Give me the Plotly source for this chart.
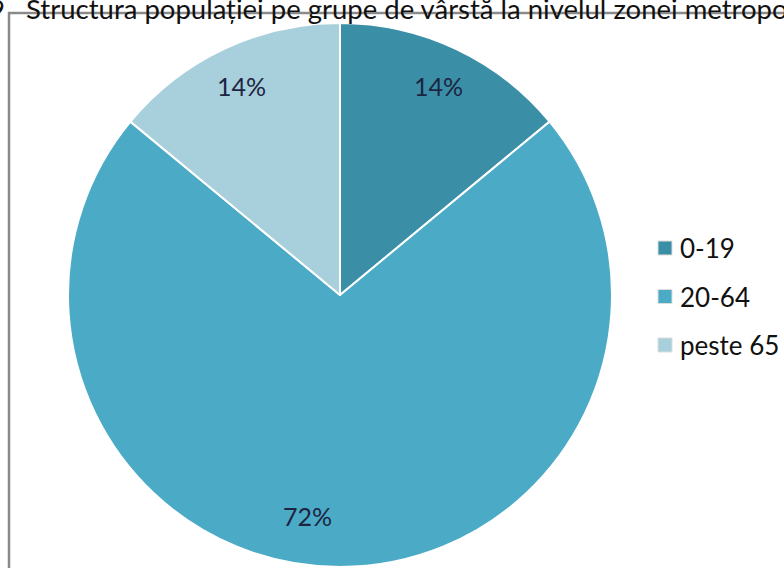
import math
import plotly.graph_objects as go

categories = ["0-19", "20-64", "peste 65"]
values = [14, 72, 14]
colors = ["#3a8fa7", "#4babc6", "#a8cfdc"]
title_text = "9   Structura populației pe grupe de vârstă la nivelul zonei metropolitane"

W, H = 784, 568
cx, cy, R = 340, 295, 272
label_r = [0.85, 0.82, 0.85]        # label radius as fraction of pie radius
label_nudge = [0, 8.5, 0]           # angular nudge (deg) of labels

fig = go.Figure()
fig.add_trace(go.Pie(
    labels=categories, values=values, sort=False, direction="clockwise",
    rotation=0, marker=dict(colors=colors, line=dict(color="white", width=2)),
    textinfo="none",
    domain=dict(x=[(cx - R) / W, (cx + R) / W], y=[(H - cy - R) / H, (H - cy + R) / H]),
    showlegend=False, hoverinfo="label+percent",
))

# percentage labels placed from the data (mid-angle of each slice)
total = sum(values)
cum = 0
for v, rf, nd in zip(values, label_r, label_nudge):
    mid = (cum + v / 2) / total * 360 + nd
    cum += v
    a = math.radians(mid)
    px = cx + rf * R * math.sin(a)
    py = cy - rf * R * math.cos(a)
    fig.add_annotation(text=f"{round(v / total * 100)}%", xref="paper", yref="paper",
                       x=px / W, y=1 - py / H, xanchor="center", yanchor="middle",
                       showarrow=False, font=dict(family="Lato", size=25, color="#1c2541"))

# border box
fig.add_shape(type="rect", xref="paper", yref="paper", x0=9 / W, x1=1.02, y0=-0.02, y1=1 - 13 / H,
              line=dict(color="#8a8a8a", width=2.5), fillcolor="rgba(0,0,0,0)", layer="below")

# title (cut off at the edges as in the source)
fig.add_annotation(text=title_text, xref="paper", yref="paper", x=-13 / W, y=1 - 8.5 / H,
                   xanchor="left", yanchor="middle", showarrow=False,
                   font=dict(family="Lato", size=27.5, color="#111111"))

# legend
for i, (cat, col) in enumerate(zip(categories, colors)):
    ly = 248 + 48.5 * i
    fig.add_shape(type="rect", xref="paper", yref="paper",
                  x0=658 / W, x1=672 / W, y0=1 - (ly + 7) / H, y1=1 - (ly - 7) / H,
                  fillcolor=col, line=dict(color="#dddddd", width=1))
    fig.add_annotation(text=cat, xref="paper", yref="paper", x=678 / W, y=1 - ly / H,
                       xanchor="left", yanchor="middle", showarrow=False,
                       font=dict(family="Lato", size=26, color="#111111"))

fig.update_layout(width=W, height=H, margin=dict(l=0, r=0, t=0, b=0),
                  paper_bgcolor="white", plot_bgcolor="white")
fig.write_html("out.html", config={"displayModeBar": False},
               post_script="document.body.style.margin='0';")
